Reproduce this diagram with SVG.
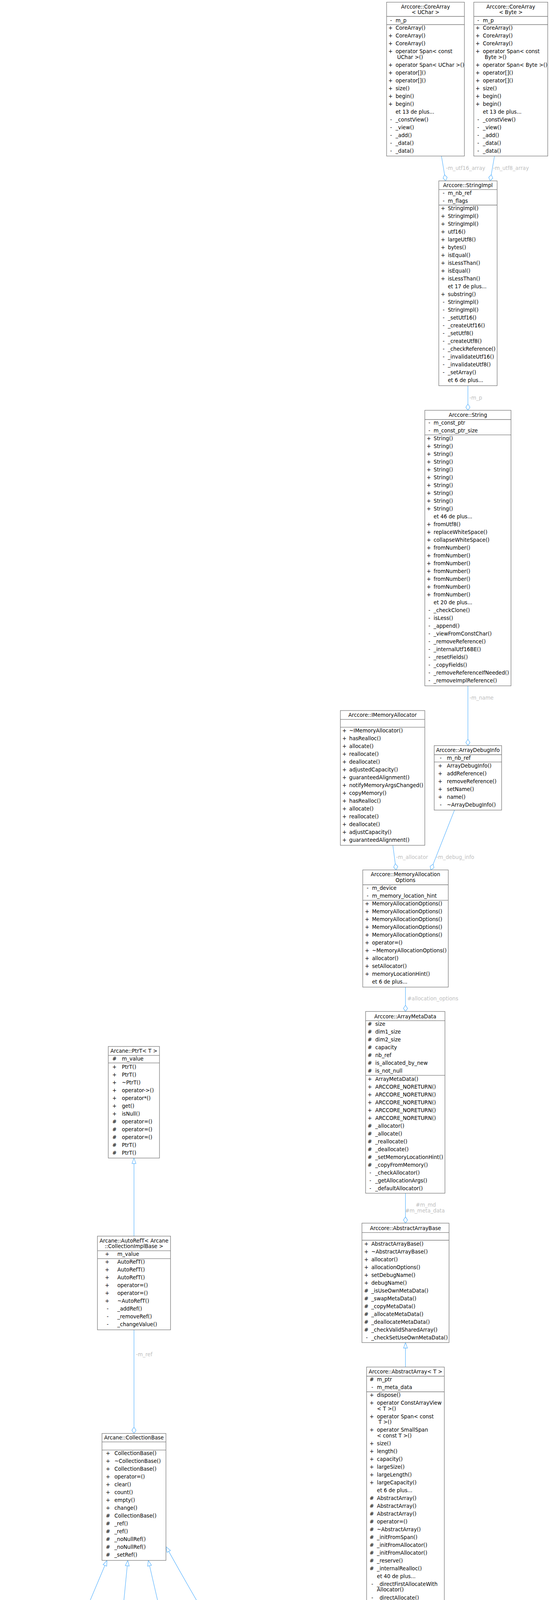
<svg xmlns="http://www.w3.org/2000/svg" width="1407" height="5335" viewBox="0 0 1407 5335">
<style>
.n{fill:#fff;stroke:#7a7a7a;stroke-width:1.3}
.f{fill:#999;stroke:#666;stroke-width:1.3}
.s{fill:none;stroke:#7a7a7a;stroke-width:1.3}
text{font-family:"DejaVu Sans","Liberation Sans",sans-serif;font-size:13.2px;fill:#000}
.c,.v{text-anchor:middle}
.e{fill:none;stroke:#63B8FF;stroke-width:1.3}
.h{fill:#fff;stroke:#63B8FF;stroke-width:1.3}
text.l{fill:#BEBEBE}
</style>
<rect width="1407" height="5335" fill="#fff"/>

<g id="connectors">
<path class="e" d="M1129.3 399.5L1137.3 447.2"/>
<polygon class="h" points="1140,463 1133.5,456 1137.3,447.2 1143.9,454.2"/>
<path class="e" d="M1265 399.5L1256.7 447.2"/>
<polygon class="h" points="1254,463 1250.2,454.2 1256.7,447.2 1260.6,456"/>
<path class="e" d="M1197 987.4V1034.4"/>
<polygon class="h" points="1197,1050.4 1191.7,1042.4 1197,1034.4 1202.3,1042.4"/>
<path class="e" d="M1197 1755.7V1892.7"/>
<polygon class="h" points="1197,1908.7 1191.7,1900.7 1197,1892.7 1202.3,1900.7"/>
<path class="e" d="M1005 2164L1011.2 2211.1"/>
<polygon class="h" points="1013.3,2227 1007,2219.8 1011.2,2211.1 1017.6,2218.4"/>
<path class="e" d="M1162.7 2073.8L1108.2 2212.1"/>
<polygon class="h" points="1102.3,2227 1100.3,2217.7 1108.2,2212.1 1110.1,2221.5"/>
<path class="e" d="M1037.3 2527V2573.4"/>
<polygon class="h" points="1037.3,2589.4 1032,2581.4 1037.3,2573.4 1042.6,2581.4"/>
<path class="e" d="M1037.3 3054.6V3115.3"/>
<polygon class="h" points="1037.3,3131.3 1032,3123.3 1037.3,3115.3 1042.6,3123.3"/>
<path class="e" d="M1037.3 3499.6V3451"/>
<polygon class="h" points="1037.3,3437 1042.3,3451 1032.3,3451"/>
<path class="e" d="M989.6 4213.3L992.7 4178.2"/>
<polygon class="h" points="993.9,4164.3 997.7,4178.6 987.7,4177.8"/>
<path class="e" d="M1144.5 4213.3L1134.4 4177.8"/>
<polygon class="h" points="1130.6,4164.3 1139.2,4176.4 1129.6,4179.2"/>
<path class="e" d="M949.1 4721.2L951.7 4656.3"/>
<polygon class="h" points="952.3,4642.3 956.7,4656.5 946.7,4656.1"/>
<path class="e" d="M1209.9 4721.2L1209 4656.3"/>
<polygon class="h" points="1208.8,4642.3 1214,4656.3 1204,4656.3"/>
<path class="e" d="M342.7 3164.5V2978.6"/>
<polygon class="h" points="342.7,2964.6 347.7,2978.6 337.7,2978.6"/>
<path class="e" d="M342.7 3404.4V3653.6"/>
<polygon class="h" points="342.7,3669.6 337.4,3661.6 342.7,3653.6 348,3661.6"/>
<path class="e" d="M155.6 4275.2L268.3 4007.5"/>
<polygon class="h" points="273.7,3994.6 272.9,4009.4 263.7,4005.6"/>
<path class="e" d="M299.7 4275.2L325.5 4008.5"/>
<polygon class="h" points="326.8,3994.6 330.5,4009 320.5,4008"/>
<path class="e" d="M444.4 4275.2L382.6 4008.2"/>
<polygon class="h" points="379.4,3994.6 387.5,4007.1 377.7,4009.3"/>
<path class="e" d="M609.2 4275.2Q520 4130 431.7 3971.6"/>
<polygon class="h" points="424.6,3959.5 436,3969.1 427.4,3974.1"/>
<path class="e" d="M93.8 4692L92.8 4593.8"/>
<polygon class="h" points="92.7,4579.8 97.8,4593.8 87.8,4593.8"/>
<path class="e" d="M283.5 4692L283.9 4593.8"/>
<polygon class="h" points="284,4579.8 288.9,4593.8 278.9,4593.8"/>
<path class="e" d="M479.1 4692V4593.8"/>
<polygon class="h" points="479.1,4579.8 484.1,4593.8 474.1,4593.8"/>
<path class="e" d="M690 4692L687.1 4593.8"/>
<polygon class="h" points="686.7,4579.8 692.1,4593.6 682.1,4594"/>
<path class="e" d="M165.3 5032.1C215 5115 330 5170 458.7 5195.5"/>
<polygon class="h" points="474.3,5199.2 465.3,5202.5 458.7,5195.5 467.7,5192.2"/>
<path class="e" d="M318.2 5032.1C340 5100 395 5145 459.2 5167.7"/>
<polygon class="h" points="474.3,5173 465.1,5175.4 459.2,5167.7 468.5,5165.4"/>
<path class="e" d="M479.1 5032.1C482 5060 490 5080 494.7 5094.2"/>
<polygon class="h" points="498.6,5109.7 491.5,5103.2 494.7,5094.2 501.7,5100.6"/>
<path class="e" d="M677 5032.1C672 5060 666 5080 660 5094.3"/>
<polygon class="h" points="655.8,5109.7 652.8,5100.6 660,5094.3 663,5103.4"/>
<path class="e" d="M885 5001.4C860 5060 800 5120 714.2 5164.3"/>
<polygon class="h" points="699.8,5171.6 704.7,5163.3 714.2,5164.3 709.5,5172.7"/>
<path class="e" d="M1165 5001.4C1120 5090 950 5135 714.8 5193.9"/>
<polygon class="h" points="699.3,5197.8 705.8,5190.7 714.8,5193.9 708.4,5200.9"/>
<text class="l" x="1141" y="435">-m_utf16_array</text>
<text class="l" x="1261" y="435">-m_utf8_array</text>
<text class="l" x="1200.7" y="1023.3">-m_p</text>
<text class="l" x="1201" y="1791.3">-m_name</text>
<text class="l" x="1013.3" y="2199">-m_allocator</text>
<text class="l" x="1116" y="2199">-m_debug_info</text>
<text class="l" x="1042" y="2561">#allocation_options</text>
<text class="l c" x="1089.3" y="3088.6">#m_md</text>
<text class="l c" x="1087.3" y="3103.9">#m_meta_data</text>
<text class="l" x="347.7" y="3472">-m_ref</text>
<text class="l c" x="270" y="5074.2">-m_service_infos</text>
<text class="l c" x="415" y="5067.3">-m_service_factory</text>
<text class="l c" x="415" y="5081.2">_infos</text>
<text class="l" x="496.5" y="5074.2">-m_module_factory_infos</text>
<text class="l" x="676.4" y="5074.2">-m_service_factories2</text>
<text class="l c" x="925" y="5067.3">-m_deletable_service</text>
<text class="l c" x="925" y="5081.2">_factory_list</text>
<text class="l c" x="1175" y="5067.3">-m_deletable_module</text>
<text class="l c" x="1175" y="5081.2">_factory_list</text>
</g>

<g id="core-array-uchar">
<rect class="n" x="989" y="5.6" width="199" height="393.9"/>
<path class="s" d="M989 42H1188M989 63H1188"/>
<text class="c" x="1088.5" y="21.5">Arccore::CoreArray</text>
<text class="c" x="1088.5" y="35.6">&lt; UChar &gt;</text>
<text class="v"><tspan x="1000.5" y="56.7">-</tspan><tspan x="999" y="76">+</tspan><tspan x="999" y="96">+</tspan><tspan x="999" y="116">+</tspan><tspan x="999" y="136">+</tspan><tspan x="999" y="170.8">+</tspan><tspan x="999" y="190.8">+</tspan><tspan x="999" y="210.8">+</tspan><tspan x="999" y="230.8">+</tspan><tspan x="999" y="250.8">+</tspan><tspan x="999" y="270.8">+</tspan><tspan x="1000.5" y="310.8">-</tspan><tspan x="1000.5" y="330.8">-</tspan><tspan x="1000.5" y="350.8">-</tspan><tspan x="1000.5" y="370.8">-</tspan><tspan x="1000.5" y="390.8">-</tspan></text>
<text><tspan x="1012" y="56.7">m_p</tspan><tspan x="1012" y="76">CoreArray()</tspan><tspan x="1012" y="96">CoreArray()</tspan><tspan x="1012" y="116">CoreArray()</tspan><tspan x="1012" y="136">operator Span&lt; const</tspan><tspan x="1016" y="150.6">UChar &gt;()</tspan><tspan x="1012" y="170.8">operator Span&lt; UChar &gt;()</tspan><tspan x="1012" y="190.8">operator[]()</tspan><tspan x="1012" y="210.8">operator[]()</tspan><tspan x="1012" y="230.8">size()</tspan><tspan x="1012" y="250.8">begin()</tspan><tspan x="1012" y="270.8">begin()</tspan><tspan x="1012" y="290.8">et 13 de plus...</tspan><tspan x="1012" y="310.8">_constView()</tspan><tspan x="1012" y="330.8">_view()</tspan><tspan x="1012" y="350.8">_add()</tspan><tspan x="1012" y="370.8">_data()</tspan><tspan x="1012" y="390.8">_data()</tspan></text>
</g>

<g id="core-array-byte">
<rect class="n" x="1212" y="5.6" width="189.3" height="393.9"/>
<path class="s" d="M1212 42H1401.3M1212 63H1401.3"/>
<text class="c" x="1306.7" y="21.5">Arccore::CoreArray</text>
<text class="c" x="1306.7" y="35.6">&lt; Byte &gt;</text>
<text class="v"><tspan x="1223.5" y="56.7">-</tspan><tspan x="1222" y="76">+</tspan><tspan x="1222" y="96">+</tspan><tspan x="1222" y="116">+</tspan><tspan x="1222" y="136">+</tspan><tspan x="1222" y="170.8">+</tspan><tspan x="1222" y="190.8">+</tspan><tspan x="1222" y="210.8">+</tspan><tspan x="1222" y="230.8">+</tspan><tspan x="1222" y="250.8">+</tspan><tspan x="1222" y="270.8">+</tspan><tspan x="1223.5" y="310.8">-</tspan><tspan x="1223.5" y="330.8">-</tspan><tspan x="1223.5" y="350.8">-</tspan><tspan x="1223.5" y="370.8">-</tspan><tspan x="1223.5" y="390.8">-</tspan></text>
<text><tspan x="1235.3" y="56.7">m_p</tspan><tspan x="1235.3" y="76">CoreArray()</tspan><tspan x="1235.3" y="96">CoreArray()</tspan><tspan x="1235.3" y="116">CoreArray()</tspan><tspan x="1235.3" y="136">operator Span&lt; const</tspan><tspan x="1240" y="150.6">Byte &gt;()</tspan><tspan x="1235.3" y="170.8">operator Span&lt; Byte &gt;()</tspan><tspan x="1235.3" y="190.8">operator[]()</tspan><tspan x="1235.3" y="210.8">operator[]()</tspan><tspan x="1235.3" y="230.8">size()</tspan><tspan x="1235.3" y="250.8">begin()</tspan><tspan x="1235.3" y="270.8">begin()</tspan><tspan x="1235.3" y="290.8">et 13 de plus...</tspan><tspan x="1235.3" y="310.8">_constView()</tspan><tspan x="1235.3" y="330.8">_view()</tspan><tspan x="1235.3" y="350.8">_add()</tspan><tspan x="1235.3" y="370.8">_data()</tspan><tspan x="1235.3" y="390.8">_data()</tspan></text>
</g>

<g id="string-impl">
<rect class="n" x="1122.5" y="463" width="149.2" height="524.4"/>
<path class="s" d="M1122.5 485.4H1271.7M1122.5 525H1271.7"/>
<text class="c" x="1197" y="478.7">Arccore::StringImpl</text>
<text class="v"><tspan x="1134.8" y="498.7">-</tspan><tspan x="1134.8" y="518.7">-</tspan><tspan x="1133.3" y="538.4">+</tspan><tspan x="1133.3" y="558.4">+</tspan><tspan x="1133.3" y="578.4">+</tspan><tspan x="1133.3" y="598.4">+</tspan><tspan x="1133.3" y="618.4">+</tspan><tspan x="1133.3" y="638.4">+</tspan><tspan x="1133.3" y="658.4">+</tspan><tspan x="1133.3" y="678.4">+</tspan><tspan x="1133.3" y="698.4">+</tspan><tspan x="1133.3" y="718.4">+</tspan><tspan x="1133.3" y="758.4">+</tspan><tspan x="1134.8" y="778.4">-</tspan><tspan x="1134.8" y="798.4">-</tspan><tspan x="1134.8" y="818.4">-</tspan><tspan x="1134.8" y="838.4">-</tspan><tspan x="1134.8" y="858.4">-</tspan><tspan x="1134.8" y="878.4">-</tspan><tspan x="1134.8" y="898.4">-</tspan><tspan x="1134.8" y="918.4">-</tspan><tspan x="1134.8" y="938.4">-</tspan><tspan x="1134.8" y="958.4">-</tspan></text>
<text><tspan x="1145.7" y="498.7">m_nb_ref</tspan><tspan x="1145.7" y="518.7">m_flags</tspan><tspan x="1145.7" y="538.4">StringImpl()</tspan><tspan x="1145.7" y="558.4">StringImpl()</tspan><tspan x="1145.7" y="578.4">StringImpl()</tspan><tspan x="1145.7" y="598.4">utf16()</tspan><tspan x="1145.7" y="618.4">largeUtf8()</tspan><tspan x="1145.7" y="638.4">bytes()</tspan><tspan x="1145.7" y="658.4">isEqual()</tspan><tspan x="1145.7" y="678.4">isLessThan()</tspan><tspan x="1145.7" y="698.4">isEqual()</tspan><tspan x="1145.7" y="718.4">isLessThan()</tspan><tspan x="1145.7" y="738.4">et 17 de plus...</tspan><tspan x="1145.7" y="758.4">substring()</tspan><tspan x="1145.7" y="778.4">StringImpl()</tspan><tspan x="1145.7" y="798.4">StringImpl()</tspan><tspan x="1145.7" y="818.4">_setUtf16()</tspan><tspan x="1145.7" y="838.4">_createUtf16()</tspan><tspan x="1145.7" y="858.4">_setUtf8()</tspan><tspan x="1145.7" y="878.4">_createUtf8()</tspan><tspan x="1145.7" y="898.4">_checkReference()</tspan><tspan x="1145.7" y="918.4">_invalidateUtf16()</tspan><tspan x="1145.7" y="938.4">_invalidateUtf8()</tspan><tspan x="1145.7" y="958.4">_setArray()</tspan><tspan x="1145.7" y="978.4">et 6 de plus...</tspan></text>
</g>

<g id="string">
<rect class="n" x="1086.7" y="1050.4" width="220.6" height="705.3"/>
<path class="s" d="M1086.7 1074H1307.3M1086.7 1113.3H1307.3"/>
<text class="c" x="1197" y="1066.7">Arccore::String</text>
<text class="v"><tspan x="1098.5" y="1087.2">-</tspan><tspan x="1098.5" y="1107.2">-</tspan><tspan x="1097" y="1126.9">+</tspan><tspan x="1097" y="1146.9">+</tspan><tspan x="1097" y="1166.9">+</tspan><tspan x="1097" y="1186.9">+</tspan><tspan x="1097" y="1206.9">+</tspan><tspan x="1097" y="1226.9">+</tspan><tspan x="1097" y="1246.9">+</tspan><tspan x="1097" y="1266.9">+</tspan><tspan x="1097" y="1286.9">+</tspan><tspan x="1097" y="1306.9">+</tspan><tspan x="1097" y="1346.9">+</tspan><tspan x="1097" y="1366.9">+</tspan><tspan x="1097" y="1386.9">+</tspan><tspan x="1097" y="1406.9">+</tspan><tspan x="1097" y="1426.9">+</tspan><tspan x="1097" y="1446.9">+</tspan><tspan x="1097" y="1466.9">+</tspan><tspan x="1097" y="1486.9">+</tspan><tspan x="1097" y="1506.9">+</tspan><tspan x="1097" y="1526.9">+</tspan><tspan x="1098.5" y="1566.9">-</tspan><tspan x="1098.5" y="1586.9">-</tspan><tspan x="1098.5" y="1606.9">-</tspan><tspan x="1098.5" y="1626.9">-</tspan><tspan x="1098.5" y="1646.9">-</tspan><tspan x="1098.5" y="1666.9">-</tspan><tspan x="1098.5" y="1686.9">-</tspan><tspan x="1098.5" y="1706.9">-</tspan><tspan x="1098.5" y="1726.9">-</tspan><tspan x="1098.5" y="1746.9">-</tspan></text>
<text><tspan x="1109.3" y="1087.2">m_const_ptr</tspan><tspan x="1109.3" y="1107.2">m_const_ptr_size</tspan><tspan x="1109.3" y="1126.9">String()</tspan><tspan x="1109.3" y="1146.9">String()</tspan><tspan x="1109.3" y="1166.9">String()</tspan><tspan x="1109.3" y="1186.9">String()</tspan><tspan x="1109.3" y="1206.9">String()</tspan><tspan x="1109.3" y="1226.9">String()</tspan><tspan x="1109.3" y="1246.9">String()</tspan><tspan x="1109.3" y="1266.9">String()</tspan><tspan x="1109.3" y="1286.9">String()</tspan><tspan x="1109.3" y="1306.9">String()</tspan><tspan x="1109.3" y="1326.9">et 46 de plus...</tspan><tspan x="1109.3" y="1346.9">fromUtf8()</tspan><tspan x="1109.3" y="1366.9">replaceWhiteSpace()</tspan><tspan x="1109.3" y="1386.9">collapseWhiteSpace()</tspan><tspan x="1109.3" y="1406.9">fromNumber()</tspan><tspan x="1109.3" y="1426.9">fromNumber()</tspan><tspan x="1109.3" y="1446.9">fromNumber()</tspan><tspan x="1109.3" y="1466.9">fromNumber()</tspan><tspan x="1109.3" y="1486.9">fromNumber()</tspan><tspan x="1109.3" y="1506.9">fromNumber()</tspan><tspan x="1109.3" y="1526.9">fromNumber()</tspan><tspan x="1109.3" y="1546.9">et 20 de plus...</tspan><tspan x="1109.3" y="1566.9">_checkClone()</tspan><tspan x="1109.3" y="1586.9">isLess()</tspan><tspan x="1109.3" y="1606.9">_append()</tspan><tspan x="1109.3" y="1626.9">_viewFromConstChar()</tspan><tspan x="1109.3" y="1646.9">_removeReference()</tspan><tspan x="1109.3" y="1666.9">_internalUtf16BE()</tspan><tspan x="1109.3" y="1686.9">_resetFields()</tspan><tspan x="1109.3" y="1706.9">_copyFields()</tspan><tspan x="1109.3" y="1726.9">_removeReferenceIfNeeded()</tspan><tspan x="1109.3" y="1746.9">_removeImplReference()</tspan></text>
</g>

<g id="imemory-allocator">
<rect class="n" x="870.7" y="1819" width="216" height="345"/>
<path class="s" d="M870.7 1841.7H1086.7M870.7 1861.7H1086.7"/>
<text class="c" x="978.7" y="1835">Arccore::IMemoryAllocator</text>
<text class="v"><tspan x="881" y="1875">+</tspan><tspan x="881" y="1895">+</tspan><tspan x="881" y="1915">+</tspan><tspan x="881" y="1935">+</tspan><tspan x="881" y="1955">+</tspan><tspan x="881" y="1975">+</tspan><tspan x="881" y="1995">+</tspan><tspan x="881" y="2015">+</tspan><tspan x="881" y="2035">+</tspan><tspan x="881" y="2055">+</tspan><tspan x="881" y="2075">+</tspan><tspan x="881" y="2095">+</tspan><tspan x="881" y="2115">+</tspan><tspan x="881" y="2135">+</tspan><tspan x="881" y="2155">+</tspan></text>
<text><tspan x="893.3" y="1875">~IMemoryAllocator()</tspan><tspan x="893.3" y="1895">hasRealloc()</tspan><tspan x="893.3" y="1915">allocate()</tspan><tspan x="893.3" y="1935">reallocate()</tspan><tspan x="893.3" y="1955">deallocate()</tspan><tspan x="893.3" y="1975">adjustedCapacity()</tspan><tspan x="893.3" y="1995">guaranteedAlignment()</tspan><tspan x="893.3" y="2015">notifyMemoryArgsChanged()</tspan><tspan x="893.3" y="2035">copyMemory()</tspan><tspan x="893.3" y="2055">hasRealloc()</tspan><tspan x="893.3" y="2075">allocate()</tspan><tspan x="893.3" y="2095">reallocate()</tspan><tspan x="893.3" y="2115">deallocate()</tspan><tspan x="893.3" y="2135">adjustCapacity()</tspan><tspan x="893.3" y="2155">guaranteedAlignment()</tspan></text>
</g>

<g id="array-debug-info">
<rect class="n" x="1110.7" y="1908.7" width="172.6" height="165.1"/>
<path class="s" d="M1110.7 1932H1283.3M1110.7 1950.7H1283.3"/>
<text class="c" x="1197" y="1925">Arccore::ArrayDebugInfo</text>
<text class="v"><tspan x="1127.5" y="1945">-</tspan><tspan x="1126" y="1965">+</tspan><tspan x="1126" y="1985">+</tspan><tspan x="1126" y="2005">+</tspan><tspan x="1126" y="2025">+</tspan><tspan x="1126" y="2045">+</tspan><tspan x="1127.5" y="2065">-</tspan></text>
<text><tspan x="1143.3" y="1945">m_nb_ref</tspan><tspan x="1143.3" y="1965">ArrayDebugInfo()</tspan><tspan x="1143.3" y="1985">addReference()</tspan><tspan x="1143.3" y="2005">removeReference()</tspan><tspan x="1143.3" y="2025">setName()</tspan><tspan x="1143.3" y="2045">name()</tspan><tspan x="1143.3" y="2065">~ArrayDebugInfo()</tspan></text>
</g>

<g id="memory-allocation-options">
<rect class="n" x="928" y="2227" width="218.7" height="300"/>
<path class="s" d="M928 2265H1146.7M928 2304.6H1146.7"/>
<text class="c" x="1037.3" y="2242.7">Arccore::MemoryAllocation</text>
<text class="c" x="1037.3" y="2258">Options</text>
<text class="v"><tspan x="940.5" y="2278.1">-</tspan><tspan x="940.5" y="2298.1">-</tspan><tspan x="939" y="2317.7">+</tspan><tspan x="939" y="2337.7">+</tspan><tspan x="939" y="2357.7">+</tspan><tspan x="939" y="2377.7">+</tspan><tspan x="939" y="2397.7">+</tspan><tspan x="939" y="2417.7">+</tspan><tspan x="939" y="2437.7">+</tspan><tspan x="939" y="2457.7">+</tspan><tspan x="939" y="2477.7">+</tspan><tspan x="939" y="2497.7">+</tspan></text>
<text><tspan x="951.7" y="2278.1">m_device</tspan><tspan x="951.7" y="2298.1">m_memory_location_hint</tspan><tspan x="951.7" y="2317.7">MemoryAllocationOptions()</tspan><tspan x="951.7" y="2337.7">MemoryAllocationOptions()</tspan><tspan x="951.7" y="2357.7">MemoryAllocationOptions()</tspan><tspan x="951.7" y="2377.7">MemoryAllocationOptions()</tspan><tspan x="951.7" y="2397.7">MemoryAllocationOptions()</tspan><tspan x="951.7" y="2417.7">operator=()</tspan><tspan x="951.7" y="2437.7">~MemoryAllocationOptions()</tspan><tspan x="951.7" y="2457.7">allocator()</tspan><tspan x="951.7" y="2477.7">setAllocator()</tspan><tspan x="951.7" y="2497.7">memoryLocationHint()</tspan><tspan x="951.7" y="2517.7">et 6 de plus...</tspan></text>
</g>

<g id="array-meta-data">
<rect class="n" x="935.3" y="2589.4" width="203" height="465.2"/>
<path class="s" d="M935.3 2612.9H1138.3M935.3 2752.9H1138.3"/>
<text class="c" x="1036.8" y="2606.5">Arccore::ArrayMetaData</text>
<text class="v"><tspan x="946" y="2626.1">#</tspan><tspan x="946" y="2646.1">#</tspan><tspan x="946" y="2666.1">#</tspan><tspan x="946" y="2686.1">#</tspan><tspan x="946" y="2706.1">#</tspan><tspan x="946" y="2726.1">#</tspan><tspan x="946" y="2746.1">#</tspan><tspan x="946" y="2766.5">+</tspan><tspan x="946" y="2786.5">+</tspan><tspan x="946" y="2806.5">+</tspan><tspan x="946" y="2826.5">+</tspan><tspan x="946" y="2846.5">+</tspan><tspan x="946" y="2866.5">+</tspan><tspan x="946" y="2886.5">#</tspan><tspan x="946" y="2906.5">#</tspan><tspan x="946" y="2926.5">#</tspan><tspan x="946" y="2946.5">#</tspan><tspan x="946" y="2966.5">#</tspan><tspan x="946" y="2986.5">#</tspan><tspan x="947.5" y="3006.5">-</tspan><tspan x="947.5" y="3026.5">-</tspan><tspan x="947.5" y="3046.5">-</tspan></text>
<text><tspan x="960" y="2626.1">size</tspan><tspan x="960" y="2646.1">dim1_size</tspan><tspan x="960" y="2666.1">dim2_size</tspan><tspan x="960" y="2686.1">capacity</tspan><tspan x="960" y="2706.1">nb_ref</tspan><tspan x="960" y="2726.1">is_allocated_by_new</tspan><tspan x="960" y="2746.1">is_not_null</tspan><tspan x="960" y="2766.5">ArrayMetaData()</tspan><tspan x="960" y="2786.5">ARCCORE_NORETURN()</tspan><tspan x="960" y="2806.5">ARCCORE_NORETURN()</tspan><tspan x="960" y="2826.5">ARCCORE_NORETURN()</tspan><tspan x="960" y="2846.5">ARCCORE_NORETURN()</tspan><tspan x="960" y="2866.5">ARCCORE_NORETURN()</tspan><tspan x="960" y="2886.5">_allocator()</tspan><tspan x="960" y="2906.5">_allocate()</tspan><tspan x="960" y="2926.5">_reallocate()</tspan><tspan x="960" y="2946.5">_deallocate()</tspan><tspan x="960" y="2966.5">_setMemoryLocationHint()</tspan><tspan x="960" y="2986.5">_copyFromMemory()</tspan><tspan x="960" y="3006.5">_checkAllocator()</tspan><tspan x="960" y="3026.5">_getAllocationArgs()</tspan><tspan x="960" y="3046.5">_defaultAllocator()</tspan></text>
</g>

<g id="abstract-array-base">
<rect class="n" x="925.9" y="3131.3" width="222.8" height="305.7"/>
<path class="s" d="M925.9 3155.4H1148.7M925.9 3175H1148.7"/>
<text class="c" x="1037.3" y="3149.3">Arccore::AbstractArrayBase</text>
<text class="v"><tspan x="937" y="3188.7">+</tspan><tspan x="937" y="3208.7">+</tspan><tspan x="937" y="3228.7">+</tspan><tspan x="937" y="3248.7">+</tspan><tspan x="937" y="3268.7">+</tspan><tspan x="937" y="3288.7">+</tspan><tspan x="937" y="3308.7">#</tspan><tspan x="937" y="3328.7">#</tspan><tspan x="937" y="3348.7">#</tspan><tspan x="937" y="3368.7">#</tspan><tspan x="937" y="3388.7">#</tspan><tspan x="937" y="3408.7">#</tspan><tspan x="938.5" y="3428.7">-</tspan></text>
<text><tspan x="950" y="3188.7">AbstractArrayBase()</tspan><tspan x="950" y="3208.7">~AbstractArrayBase()</tspan><tspan x="950" y="3228.7">allocator()</tspan><tspan x="950" y="3248.7">allocationOptions()</tspan><tspan x="950" y="3268.7">setDebugName()</tspan><tspan x="950" y="3288.7">debugName()</tspan><tspan x="950" y="3308.7">_isUseOwnMetaData()</tspan><tspan x="950" y="3328.7">_swapMetaData()</tspan><tspan x="950" y="3348.7">_copyMetaData()</tspan><tspan x="950" y="3368.7">_allocateMetaData()</tspan><tspan x="950" y="3388.7">_deallocateMetaData()</tspan><tspan x="950" y="3408.7">_checkValidSharedArray()</tspan><tspan x="950" y="3428.7">_checkSetUseOwnMetaData()</tspan></text>
</g>

<g id="abstract-array">
<rect class="n" x="937.8" y="3499.6" width="198.8" height="664.7"/>
<path class="s" d="M937.8 3523H1136.6M937.8 3563H1136.6"/>
<text class="c" x="1037.3" y="3515.7">Arccore::AbstractArray&lt; T &gt;</text>
<text class="v"><tspan x="951" y="3536.4">#</tspan><tspan x="952.5" y="3556">-</tspan><tspan x="951" y="3575.7">+</tspan><tspan x="951" y="3596.2">+</tspan><tspan x="951" y="3631">+</tspan><tspan x="951" y="3665.2">+</tspan><tspan x="951" y="3699.7">+</tspan><tspan x="951" y="3719.7">+</tspan><tspan x="951" y="3739.7">+</tspan><tspan x="951" y="3759.7">+</tspan><tspan x="951" y="3779.7">+</tspan><tspan x="951" y="3799.7">+</tspan><tspan x="951" y="3839.7">#</tspan><tspan x="951" y="3859.7">#</tspan><tspan x="951" y="3879.7">#</tspan><tspan x="951" y="3899.7">#</tspan><tspan x="951" y="3919.7">#</tspan><tspan x="951" y="3939.7">#</tspan><tspan x="951" y="3959.7">#</tspan><tspan x="951" y="3979.7">#</tspan><tspan x="951" y="3999.7">#</tspan><tspan x="951" y="4019.7">#</tspan><tspan x="952.5" y="4059.7">-</tspan><tspan x="952.5" y="4094.7">-</tspan><tspan x="952.5" y="4114.7">-</tspan><tspan x="952.5" y="4134.7">-</tspan><tspan x="952.5" y="4154.7">-</tspan></text>
<text><tspan x="964.3" y="3536.4">m_ptr</tspan><tspan x="964.3" y="3556">m_meta_data</tspan><tspan x="964.3" y="3575.7">dispose()</tspan><tspan x="964.3" y="3596.2">operator ConstArrayView</tspan><tspan x="964.3" y="3610.7">&lt; T &gt;()</tspan><tspan x="964.3" y="3631">operator Span&lt; const</tspan><tspan x="968.3" y="3645.2">T &gt;()</tspan><tspan x="964.3" y="3665.2">operator SmallSpan</tspan><tspan x="964.3" y="3679.7">&lt; const T &gt;()</tspan><tspan x="964.3" y="3699.7">size()</tspan><tspan x="964.3" y="3719.7">length()</tspan><tspan x="964.3" y="3739.7">capacity()</tspan><tspan x="964.3" y="3759.7">largeSize()</tspan><tspan x="964.3" y="3779.7">largeLength()</tspan><tspan x="964.3" y="3799.7">largeCapacity()</tspan><tspan x="964.3" y="3819.7">et 6 de plus...</tspan><tspan x="964.3" y="3839.7">AbstractArray()</tspan><tspan x="964.3" y="3859.7">AbstractArray()</tspan><tspan x="964.3" y="3879.7">AbstractArray()</tspan><tspan x="964.3" y="3899.7">operator=()</tspan><tspan x="964.3" y="3919.7">~AbstractArray()</tspan><tspan x="964.3" y="3939.7">_initFromSpan()</tspan><tspan x="964.3" y="3959.7">_initFromAllocator()</tspan><tspan x="964.3" y="3979.7">_initFromAllocator()</tspan><tspan x="964.3" y="3999.7">_reserve()</tspan><tspan x="964.3" y="4019.7">_internalRealloc()</tspan><tspan x="964.3" y="4039.7">et 40 de plus...</tspan><tspan x="964.3" y="4059.7">_directFirstAllocateWith</tspan><tspan x="964.3" y="4074.3">Allocator()</tspan><tspan x="964.3" y="4094.7">_directAllocate()</tspan><tspan x="964.3" y="4114.7">_allocateMP()</tspan><tspan x="964.3" y="4134.7">_directReAllocate()</tspan><tspan x="964.3" y="4154.7">_setToSharedNull()</tspan></text>
</g>

<g id="array-left">
<rect class="n" x="866.7" y="4213.3" width="191.8" height="429"/>
<path class="s" d="M866.7 4236H1058.5M866.7 4256.4H1058.5"/>
<text class="c" x="962.6" y="4229.2">Arccore::Array&lt; T &gt;</text>
<text class="v"><tspan x="877.4" y="4269.4">+</tspan><tspan x="877.4" y="4289.4">+</tspan><tspan x="877.4" y="4324.2">+</tspan><tspan x="877.4" y="4359">+</tspan><tspan x="877.4" y="4393.7">+</tspan><tspan x="877.4" y="4413.7">+</tspan><tspan x="877.4" y="4433.7">+</tspan><tspan x="877.4" y="4453.7">+</tspan><tspan x="877.4" y="4473.7">+</tspan><tspan x="877.4" y="4493.7">+</tspan><tspan x="877.4" y="4533.7">#</tspan><tspan x="877.4" y="4553.7">#</tspan><tspan x="877.4" y="4573.7">#</tspan><tspan x="878.9" y="4593.7">-</tspan><tspan x="878.9" y="4613.7">-</tspan><tspan x="878.9" y="4633.7">-</tspan></text>
<text><tspan x="889.4" y="4269.4">~Array()</tspan><tspan x="889.4" y="4289.4">operator ConstArrayView</tspan><tspan x="889.4" y="4304.2">&lt; T &gt;()</tspan><tspan x="889.4" y="4324.2">operator ArrayView</tspan><tspan x="889.4" y="4339">&lt; T &gt;()</tspan><tspan x="889.4" y="4359">operator Span&lt; const</tspan><tspan x="893.4" y="4373.7">T &gt;()</tspan><tspan x="889.4" y="4393.7">operator Span&lt; T &gt;()</tspan><tspan x="889.4" y="4413.7">constView()</tspan><tspan x="889.4" y="4433.7">constSpan()</tspan><tspan x="889.4" y="4453.7">subConstView()</tspan><tspan x="889.4" y="4473.7">view()</tspan><tspan x="889.4" y="4493.7">span()</tspan><tspan x="889.4" y="4513.7">et 53 de plus...</tspan><tspan x="889.4" y="4533.7">Array()</tspan><tspan x="889.4" y="4553.7">Array()</tspan><tspan x="889.4" y="4573.7">_initFromInitializerList()</tspan><tspan x="889.4" y="4593.7">Array()</tspan><tspan x="889.4" y="4613.7">operator=()</tspan><tspan x="889.4" y="4633.7">TV_ttf_display_type()</tspan></text>
</g>

<g id="array-right">
<rect class="n" x="1109.3" y="4213.3" width="191.8" height="429"/>
<path class="s" d="M1109.3 4236H1301.1M1109.3 4256.4H1301.1"/>
<text class="c" x="1205.2" y="4229.2">Arccore::Array&lt; T &gt;</text>
<text class="v"><tspan x="1120" y="4269.4">+</tspan><tspan x="1120" y="4289.4">+</tspan><tspan x="1120" y="4324.2">+</tspan><tspan x="1120" y="4359">+</tspan><tspan x="1120" y="4393.7">+</tspan><tspan x="1120" y="4413.7">+</tspan><tspan x="1120" y="4433.7">+</tspan><tspan x="1120" y="4453.7">+</tspan><tspan x="1120" y="4473.7">+</tspan><tspan x="1120" y="4493.7">+</tspan><tspan x="1120" y="4533.7">#</tspan><tspan x="1120" y="4553.7">#</tspan><tspan x="1120" y="4573.7">#</tspan><tspan x="1121.5" y="4593.7">-</tspan><tspan x="1121.5" y="4613.7">-</tspan><tspan x="1121.5" y="4633.7">-</tspan></text>
<text><tspan x="1132.4" y="4269.4">~Array()</tspan><tspan x="1132.4" y="4289.4">operator ConstArrayView</tspan><tspan x="1132.4" y="4304.2">&lt; T &gt;()</tspan><tspan x="1132.4" y="4324.2">operator ArrayView</tspan><tspan x="1132.4" y="4339">&lt; T &gt;()</tspan><tspan x="1132.4" y="4359">operator Span&lt; const</tspan><tspan x="1136.4" y="4373.7">T &gt;()</tspan><tspan x="1132.4" y="4393.7">operator Span&lt; T &gt;()</tspan><tspan x="1132.4" y="4413.7">constView()</tspan><tspan x="1132.4" y="4433.7">constSpan()</tspan><tspan x="1132.4" y="4453.7">subConstView()</tspan><tspan x="1132.4" y="4473.7">view()</tspan><tspan x="1132.4" y="4493.7">span()</tspan><tspan x="1132.4" y="4513.7">et 53 de plus...</tspan><tspan x="1132.4" y="4533.7">Array()</tspan><tspan x="1132.4" y="4553.7">Array()</tspan><tspan x="1132.4" y="4573.7">_initFromInitializerList()</tspan><tspan x="1132.4" y="4593.7">Array()</tspan><tspan x="1132.4" y="4613.7">operator=()</tspan><tspan x="1132.4" y="4633.7">TV_ttf_display_type()</tspan></text>
</g>

<g id="unique-array-service-factory-info">
<rect class="n" x="826.6" y="4722" width="231.9" height="279.4"/>
<path class="s" d="M826.6 4759.5H1058.5M826.6 4779H1058.5"/>
<text x="835" y="4738.2">Arccore::UniqueArray</text>
<text class="c" x="942.5" y="4753.3">&lt; Arcane::IServiceFactoryInfo * &gt;</text>
<text class="v"><tspan x="864.2" y="4793.3">+</tspan><tspan x="864.2" y="4813.3">+</tspan><tspan x="864.2" y="4833.3">+</tspan><tspan x="864.2" y="4853.3">+</tspan><tspan x="864.2" y="4873.3">+</tspan><tspan x="864.2" y="4893.3">+</tspan><tspan x="864.2" y="4913.3">+</tspan><tspan x="864.2" y="4933.3">+</tspan><tspan x="864.2" y="4953.3">+</tspan><tspan x="864.2" y="4973.3">+</tspan></text>
<text><tspan x="903.3" y="4793.3">UniqueArray()</tspan><tspan x="903.3" y="4813.3">UniqueArray()</tspan><tspan x="903.3" y="4833.3">UniqueArray()</tspan><tspan x="903.3" y="4853.3">UniqueArray()</tspan><tspan x="903.3" y="4873.3">UniqueArray()</tspan><tspan x="903.3" y="4893.3">UniqueArray()</tspan><tspan x="903.3" y="4913.3">UniqueArray()</tspan><tspan x="903.3" y="4933.3">UniqueArray()</tspan><tspan x="903.3" y="4953.3">UniqueArray()</tspan><tspan x="903.3" y="4973.3">UniqueArray()</tspan><tspan x="903.3" y="4993.3">et 27 de plus...</tspan></text>
</g>

<g id="unique-array-module-factory-reference">
<rect class="n" x="1082.7" y="4722" width="258.6" height="279.4"/>
<path class="s" d="M1082.7 4759.5H1341.3M1082.7 4779H1341.3"/>
<text x="1089.8" y="4738.2">Arccore::UniqueArray</text>
<text class="c" x="1212" y="4753.3">&lt; Arcane::ModuleFactoryReference &gt;</text>
<text class="v"><tspan x="1126.4" y="4793.3">+</tspan><tspan x="1126.4" y="4813.3">+</tspan><tspan x="1126.4" y="4833.3">+</tspan><tspan x="1126.4" y="4853.3">+</tspan><tspan x="1126.4" y="4873.3">+</tspan><tspan x="1126.4" y="4893.3">+</tspan><tspan x="1126.4" y="4913.3">+</tspan><tspan x="1126.4" y="4933.3">+</tspan><tspan x="1126.4" y="4953.3">+</tspan><tspan x="1126.4" y="4973.3">+</tspan></text>
<text><tspan x="1172.2" y="4793.3">UniqueArray()</tspan><tspan x="1172.2" y="4813.3">UniqueArray()</tspan><tspan x="1172.2" y="4833.3">UniqueArray()</tspan><tspan x="1172.2" y="4853.3">UniqueArray()</tspan><tspan x="1172.2" y="4873.3">UniqueArray()</tspan><tspan x="1172.2" y="4893.3">UniqueArray()</tspan><tspan x="1172.2" y="4913.3">UniqueArray()</tspan><tspan x="1172.2" y="4933.3">UniqueArray()</tspan><tspan x="1172.2" y="4953.3">UniqueArray()</tspan><tspan x="1172.2" y="4973.3">UniqueArray()</tspan><tspan x="1172.2" y="4993.3">et 27 de plus...</tspan></text>
</g>

<g id="ptr-t">
<rect class="n" x="277" y="2678.9" width="131" height="285.7"/>
<path class="s" d="M277 2701.8H408M277 2721.2H408"/>
<text class="c" x="342.5" y="2694.7">Arcane::PtrT&lt; T &gt;</text>
<text class="v"><tspan x="292.7" y="2715.2">#</tspan><tspan x="292.7" y="2735.6">+</tspan><tspan x="292.7" y="2755.6">+</tspan><tspan x="292.7" y="2775.6">+</tspan><tspan x="292.7" y="2795.6">+</tspan><tspan x="292.7" y="2815.6">+</tspan><tspan x="292.7" y="2835.6">+</tspan><tspan x="292.7" y="2855.6">+</tspan><tspan x="292.7" y="2875.6">#</tspan><tspan x="292.7" y="2895.6">#</tspan><tspan x="292.7" y="2915.6">#</tspan><tspan x="292.7" y="2935.6">#</tspan><tspan x="292.7" y="2955.6">#</tspan></text>
<text><tspan x="311.7" y="2715.2">m_value</tspan><tspan x="311.7" y="2735.6">PtrT()</tspan><tspan x="311.7" y="2755.6">PtrT()</tspan><tspan x="311.7" y="2775.6">~PtrT()</tspan><tspan x="311.7" y="2795.6">operator-&gt;()</tspan><tspan x="311.7" y="2815.6">operator*()</tspan><tspan x="311.7" y="2835.6">get()</tspan><tspan x="311.7" y="2855.6">isNull()</tspan><tspan x="311.7" y="2875.6">operator=()</tspan><tspan x="311.7" y="2895.6">operator=()</tspan><tspan x="311.7" y="2915.6">operator=()</tspan><tspan x="311.7" y="2935.6">PtrT()</tspan><tspan x="311.7" y="2955.6">PtrT()</tspan></text>
</g>

<g id="auto-ref-t">
<rect class="n" x="249.3" y="3164.5" width="187" height="239.9"/>
<path class="s" d="M249.3 3201.8H436.3M249.3 3222.2H436.3"/>
<text class="c" x="342.8" y="3180.8">Arcane::AutoRefT&lt; Arcane</text>
<text class="c" x="342.8" y="3194.9">::CollectionImplBase &gt;</text>
<text class="v"><tspan x="274" y="3215.2">+</tspan><tspan x="274" y="3235.1">+</tspan><tspan x="274" y="3255.1">+</tspan><tspan x="274" y="3275.1">+</tspan><tspan x="274" y="3295.1">+</tspan><tspan x="274" y="3315.1">+</tspan><tspan x="274" y="3335.1">+</tspan><tspan x="275.5" y="3355.1">-</tspan><tspan x="275.5" y="3375.1">-</tspan><tspan x="275.5" y="3395.1">-</tspan></text>
<text><tspan x="300.3" y="3215.2">m_value</tspan><tspan x="300.3" y="3235.1">AutoRefT()</tspan><tspan x="300.3" y="3255.1">AutoRefT()</tspan><tspan x="300.3" y="3275.1">AutoRefT()</tspan><tspan x="300.3" y="3295.1">operator=()</tspan><tspan x="300.3" y="3315.1">operator=()</tspan><tspan x="300.3" y="3335.1">~AutoRefT()</tspan><tspan x="300.3" y="3355.1">_addRef()</tspan><tspan x="300.3" y="3375.1">_removeRef()</tspan><tspan x="300.3" y="3395.1">_changeValue()</tspan></text>
</g>

<g id="collection-base">
<rect class="n" x="260.9" y="3669.6" width="163.6" height="325"/>
<path class="s" d="M260.9 3691.4H424.5M260.9 3712.2H424.5"/>
<text class="c" x="342.7" y="3685.4">Arcane::CollectionBase</text>
<text class="v"><tspan x="276.3" y="3725.2">+</tspan><tspan x="276.3" y="3745.2">+</tspan><tspan x="276.3" y="3765.2">+</tspan><tspan x="276.3" y="3785.2">+</tspan><tspan x="276.3" y="3805.2">+</tspan><tspan x="276.3" y="3825.2">+</tspan><tspan x="276.3" y="3845.2">+</tspan><tspan x="276.3" y="3865.2">+</tspan><tspan x="276.3" y="3885.2">#</tspan><tspan x="276.3" y="3905.2">#</tspan><tspan x="276.3" y="3925.2">#</tspan><tspan x="276.3" y="3945.2">#</tspan><tspan x="276.3" y="3965.2">#</tspan><tspan x="276.3" y="3985.2">#</tspan></text>
<text><tspan x="292.7" y="3725.2">CollectionBase()</tspan><tspan x="292.7" y="3745.2">~CollectionBase()</tspan><tspan x="292.7" y="3765.2">CollectionBase()</tspan><tspan x="292.7" y="3785.2">operator=()</tspan><tspan x="292.7" y="3805.2">clear()</tspan><tspan x="292.7" y="3825.2">count()</tspan><tspan x="292.7" y="3845.2">empty()</tspan><tspan x="292.7" y="3865.2">change()</tspan><tspan x="292.7" y="3885.2">CollectionBase()</tspan><tspan x="292.7" y="3905.2">_ref()</tspan><tspan x="292.7" y="3925.2">_ref()</tspan><tspan x="292.7" y="3945.2">_noNullRef()</tspan><tspan x="292.7" y="3965.2">_noNullRef()</tspan><tspan x="292.7" y="3985.2">_setRef()</tspan></text>
</g>

<g id="collection-1">
<rect class="n" x="5.4" y="4275.2" width="170.8" height="304.6"/>
<path class="s" d="M5.4 4298.6H176.2M5.4 4318.3H176.2"/>
<text class="c" x="90.8" y="4291.8">Arcane::Collection&lt; T &gt;</text>
<text class="v"><tspan x="30.4" y="4332.2">+</tspan><tspan x="30.4" y="4352.2">+</tspan><tspan x="30.4" y="4372.2">+</tspan><tspan x="30.4" y="4392.2">+</tspan><tspan x="30.4" y="4412.2">+</tspan><tspan x="30.4" y="4432.2">+</tspan><tspan x="30.4" y="4452.2">+</tspan><tspan x="30.4" y="4472.2">+</tspan><tspan x="30.4" y="4492.2">+</tspan><tspan x="30.4" y="4512.2">+</tspan><tspan x="30.4" y="4532.2">#</tspan><tspan x="31.9" y="4552.2">-</tspan><tspan x="31.9" y="4572.2">-</tspan></text>
<text><tspan x="56.4" y="4332.2">Collection()</tspan><tspan x="56.4" y="4352.2">enumerator()</tspan><tspan x="56.4" y="4372.2">begin()</tspan><tspan x="56.4" y="4392.2">end()</tspan><tspan x="56.4" y="4412.2">front()</tspan><tspan x="56.4" y="4432.2">remove()</tspan><tspan x="56.4" y="4452.2">removeAt()</tspan><tspan x="56.4" y="4472.2">add()</tspan><tspan x="56.4" y="4492.2">contains()</tspan><tspan x="56.4" y="4512.2">each()</tspan><tspan x="56.4" y="4532.2">Collection()</tspan><tspan x="56.4" y="4552.2">_cast()</tspan><tspan x="56.4" y="4572.2">_cast()</tspan></text>
</g>

<g id="collection-2">
<rect class="n" x="200" y="4275.2" width="170.2" height="304.6"/>
<path class="s" d="M200 4298.6H370.2M200 4318.3H370.2"/>
<text class="c" x="285.1" y="4291.8">Arcane::Collection&lt; T &gt;</text>
<text class="v"><tspan x="224.4" y="4332.2">+</tspan><tspan x="224.4" y="4352.2">+</tspan><tspan x="224.4" y="4372.2">+</tspan><tspan x="224.4" y="4392.2">+</tspan><tspan x="224.4" y="4412.2">+</tspan><tspan x="224.4" y="4432.2">+</tspan><tspan x="224.4" y="4452.2">+</tspan><tspan x="224.4" y="4472.2">+</tspan><tspan x="224.4" y="4492.2">+</tspan><tspan x="224.4" y="4512.2">+</tspan><tspan x="224.4" y="4532.2">#</tspan><tspan x="225.9" y="4552.2">-</tspan><tspan x="225.9" y="4572.2">-</tspan></text>
<text><tspan x="251.5" y="4332.2">Collection()</tspan><tspan x="251.5" y="4352.2">enumerator()</tspan><tspan x="251.5" y="4372.2">begin()</tspan><tspan x="251.5" y="4392.2">end()</tspan><tspan x="251.5" y="4412.2">front()</tspan><tspan x="251.5" y="4432.2">remove()</tspan><tspan x="251.5" y="4452.2">removeAt()</tspan><tspan x="251.5" y="4472.2">add()</tspan><tspan x="251.5" y="4492.2">contains()</tspan><tspan x="251.5" y="4512.2">each()</tspan><tspan x="251.5" y="4532.2">Collection()</tspan><tspan x="251.5" y="4552.2">_cast()</tspan><tspan x="251.5" y="4572.2">_cast()</tspan></text>
</g>

<g id="collection-3">
<rect class="n" x="394.6" y="4275.2" width="170.2" height="304.6"/>
<path class="s" d="M394.6 4298.6H564.8M394.6 4318.3H564.8"/>
<text class="c" x="479.7" y="4291.8">Arcane::Collection&lt; T &gt;</text>
<text class="v"><tspan x="419" y="4332.2">+</tspan><tspan x="419" y="4352.2">+</tspan><tspan x="419" y="4372.2">+</tspan><tspan x="419" y="4392.2">+</tspan><tspan x="419" y="4412.2">+</tspan><tspan x="419" y="4432.2">+</tspan><tspan x="419" y="4452.2">+</tspan><tspan x="419" y="4472.2">+</tspan><tspan x="419" y="4492.2">+</tspan><tspan x="419" y="4512.2">+</tspan><tspan x="419" y="4532.2">#</tspan><tspan x="420.5" y="4552.2">-</tspan><tspan x="420.5" y="4572.2">-</tspan></text>
<text><tspan x="445.5" y="4332.2">Collection()</tspan><tspan x="445.5" y="4352.2">enumerator()</tspan><tspan x="445.5" y="4372.2">begin()</tspan><tspan x="445.5" y="4392.2">end()</tspan><tspan x="445.5" y="4412.2">front()</tspan><tspan x="445.5" y="4432.2">remove()</tspan><tspan x="445.5" y="4452.2">removeAt()</tspan><tspan x="445.5" y="4472.2">add()</tspan><tspan x="445.5" y="4492.2">contains()</tspan><tspan x="445.5" y="4512.2">each()</tspan><tspan x="445.5" y="4532.2">Collection()</tspan><tspan x="445.5" y="4552.2">_cast()</tspan><tspan x="445.5" y="4572.2">_cast()</tspan></text>
</g>

<g id="collection-4">
<rect class="n" x="596.2" y="4275.2" width="170.2" height="304.6"/>
<path class="s" d="M596.2 4298.6H766.4M596.2 4318.3H766.4"/>
<text class="c" x="681.3" y="4291.8">Arcane::Collection&lt; T &gt;</text>
<text class="v"><tspan x="620.6" y="4332.2">+</tspan><tspan x="620.6" y="4352.2">+</tspan><tspan x="620.6" y="4372.2">+</tspan><tspan x="620.6" y="4392.2">+</tspan><tspan x="620.6" y="4412.2">+</tspan><tspan x="620.6" y="4432.2">+</tspan><tspan x="620.6" y="4452.2">+</tspan><tspan x="620.6" y="4472.2">+</tspan><tspan x="620.6" y="4492.2">+</tspan><tspan x="620.6" y="4512.2">+</tspan><tspan x="620.6" y="4532.2">#</tspan><tspan x="622.1" y="4552.2">-</tspan><tspan x="622.1" y="4572.2">-</tspan></text>
<text><tspan x="647.2" y="4332.2">Collection()</tspan><tspan x="647.2" y="4352.2">enumerator()</tspan><tspan x="647.2" y="4372.2">begin()</tspan><tspan x="647.2" y="4392.2">end()</tspan><tspan x="647.2" y="4412.2">front()</tspan><tspan x="647.2" y="4432.2">remove()</tspan><tspan x="647.2" y="4452.2">removeAt()</tspan><tspan x="647.2" y="4472.2">add()</tspan><tspan x="647.2" y="4492.2">contains()</tspan><tspan x="647.2" y="4512.2">each()</tspan><tspan x="647.2" y="4532.2">Collection()</tspan><tspan x="647.2" y="4552.2">_cast()</tspan><tspan x="647.2" y="4572.2">_cast()</tspan></text>
</g>

<g id="list-service-info">
<rect class="n" x="20.6" y="4692" width="150.7" height="340.1"/>
<path class="s" d="M20.6 4730H171.3M20.6 4749.3H171.3"/>
<text class="c" x="96" y="4709">Arcane::List&lt; Arcane</text>
<text class="c" x="96" y="4722.9">::IServiceInfo * &gt;</text>
<text class="v"><tspan x="40.1" y="4763.4">+</tspan><tspan x="40.1" y="4783.4">+</tspan><tspan x="40.1" y="4803.4">+</tspan><tspan x="40.1" y="4823.4">+</tspan><tspan x="40.1" y="4843.4">+</tspan><tspan x="40.1" y="4863.4">+</tspan><tspan x="40.1" y="4883.4">+</tspan><tspan x="40.1" y="4903.4">+</tspan><tspan x="40.1" y="4923.4">+</tspan><tspan x="40.1" y="4943.4">+</tspan><tspan x="40.1" y="4983.4">#</tspan><tspan x="41.6" y="5003.4">-</tspan><tspan x="41.6" y="5023.4">-</tspan></text>
<text><tspan x="60.2" y="4763.4">List()</tspan><tspan x="60.2" y="4783.4">List()</tspan><tspan x="60.2" y="4803.4">List()</tspan><tspan x="60.2" y="4823.4">List()</tspan><tspan x="60.2" y="4843.4">resize()</tspan><tspan x="60.2" y="4863.4">operator[]()</tspan><tspan x="60.2" y="4883.4">operator[]()</tspan><tspan x="60.2" y="4903.4">clone()</tspan><tspan x="60.2" y="4923.4">clone()</tspan><tspan x="60.2" y="4943.4">begin()</tspan><tspan x="60.2" y="4963.4">et 6 de plus...</tspan><tspan x="60.2" y="4983.4">List()</tspan><tspan x="60.2" y="5003.4">_cast()</tspan><tspan x="60.2" y="5023.4">_cast()</tspan></text>
</g>

<g id="list-service-factory-info">
<rect class="n" x="196.7" y="4692" width="171.9" height="340.1"/>
<path class="s" d="M196.7 4730H368.6M196.7 4749.3H368.6"/>
<text x="203.8" y="4709">Arcane::List&lt; Arcane</text>
<text class="c" x="282.6" y="4722.9">::IServiceFactoryInfo * &gt;</text>
<text class="v"><tspan x="221.1" y="4763.4">+</tspan><tspan x="221.1" y="4783.4">+</tspan><tspan x="221.1" y="4803.4">+</tspan><tspan x="221.1" y="4823.4">+</tspan><tspan x="221.1" y="4843.4">+</tspan><tspan x="221.1" y="4863.4">+</tspan><tspan x="221.1" y="4883.4">+</tspan><tspan x="221.1" y="4903.4">+</tspan><tspan x="221.1" y="4923.4">+</tspan><tspan x="221.1" y="4943.4">+</tspan><tspan x="221.1" y="4983.4">#</tspan><tspan x="222.6" y="5003.4">-</tspan><tspan x="222.6" y="5023.4">-</tspan></text>
<text><tspan x="246.6" y="4763.4">List()</tspan><tspan x="246.6" y="4783.4">List()</tspan><tspan x="246.6" y="4803.4">List()</tspan><tspan x="246.6" y="4823.4">List()</tspan><tspan x="246.6" y="4843.4">resize()</tspan><tspan x="246.6" y="4863.4">operator[]()</tspan><tspan x="246.6" y="4883.4">operator[]()</tspan><tspan x="246.6" y="4903.4">clone()</tspan><tspan x="246.6" y="4923.4">clone()</tspan><tspan x="246.6" y="4943.4">begin()</tspan><tspan x="246.6" y="4963.4">et 6 de plus...</tspan><tspan x="246.6" y="4983.4">List()</tspan><tspan x="246.6" y="5003.4">_cast()</tspan><tspan x="246.6" y="5023.4">_cast()</tspan></text>
</g>

<g id="list-module-factory-info">
<rect class="n" x="392.4" y="4692" width="171.8" height="340.1"/>
<path class="s" d="M392.4 4730H564.2M392.4 4749.3H564.2"/>
<text x="400" y="4709">Arcane::List&lt; Arcane</text>
<text class="c" x="478.6" y="4722.9">::IModuleFactoryInfo * &gt;</text>
<text class="v"><tspan x="417.3" y="4763.4">+</tspan><tspan x="417.3" y="4783.4">+</tspan><tspan x="417.3" y="4803.4">+</tspan><tspan x="417.3" y="4823.4">+</tspan><tspan x="417.3" y="4843.4">+</tspan><tspan x="417.3" y="4863.4">+</tspan><tspan x="417.3" y="4883.4">+</tspan><tspan x="417.3" y="4903.4">+</tspan><tspan x="417.3" y="4923.4">+</tspan><tspan x="417.3" y="4943.4">+</tspan><tspan x="417.3" y="4983.4">#</tspan><tspan x="418.8" y="5003.4">-</tspan><tspan x="418.8" y="5023.4">-</tspan></text>
<text><tspan x="442.8" y="4763.4">List()</tspan><tspan x="442.8" y="4783.4">List()</tspan><tspan x="442.8" y="4803.4">List()</tspan><tspan x="442.8" y="4823.4">List()</tspan><tspan x="442.8" y="4843.4">resize()</tspan><tspan x="442.8" y="4863.4">operator[]()</tspan><tspan x="442.8" y="4883.4">operator[]()</tspan><tspan x="442.8" y="4903.4">clone()</tspan><tspan x="442.8" y="4923.4">clone()</tspan><tspan x="442.8" y="4943.4">begin()</tspan><tspan x="442.8" y="4963.4">et 6 de plus...</tspan><tspan x="442.8" y="4983.4">List()</tspan><tspan x="442.8" y="5003.4">_cast()</tspan><tspan x="442.8" y="5023.4">_cast()</tspan></text>
</g>

<g id="list-service-factory2">
<rect class="n" x="589.2" y="4692" width="213" height="340.1"/>
<path class="s" d="M589.2 4730H802.2M589.2 4749.3H802.2"/>
<text x="595.7" y="4709">Arcane::List&lt; Arcane</text>
<text class="c" x="694.9" y="4722.9">::Internal::IServiceFactory2 * &gt;</text>
<text class="v"><tspan x="624.4" y="4763.4">+</tspan><tspan x="624.4" y="4783.4">+</tspan><tspan x="624.4" y="4803.4">+</tspan><tspan x="624.4" y="4823.4">+</tspan><tspan x="624.4" y="4843.4">+</tspan><tspan x="624.4" y="4863.4">+</tspan><tspan x="624.4" y="4883.4">+</tspan><tspan x="624.4" y="4903.4">+</tspan><tspan x="624.4" y="4923.4">+</tspan><tspan x="624.4" y="4943.4">+</tspan><tspan x="624.4" y="4983.4">#</tspan><tspan x="625.9" y="5003.4">-</tspan><tspan x="625.9" y="5023.4">-</tspan></text>
<text><tspan x="659.6" y="4763.4">List()</tspan><tspan x="659.6" y="4783.4">List()</tspan><tspan x="659.6" y="4803.4">List()</tspan><tspan x="659.6" y="4823.4">List()</tspan><tspan x="659.6" y="4843.4">resize()</tspan><tspan x="659.6" y="4863.4">operator[]()</tspan><tspan x="659.6" y="4883.4">operator[]()</tspan><tspan x="659.6" y="4903.4">clone()</tspan><tspan x="659.6" y="4923.4">clone()</tspan><tspan x="659.6" y="4943.4">begin()</tspan><tspan x="659.6" y="4963.4">et 6 de plus...</tspan><tspan x="659.6" y="4983.4">List()</tspan><tspan x="659.6" y="5003.4">_cast()</tspan><tspan x="659.6" y="5023.4">_cast()</tspan></text>
</g>

<g id="service-and-module-factory-mng-impl">
<rect class="f" x="474.3" y="5109.7" width="224.9" height="219.9"/>
<path class="s" d="M474.3 5147.7H699.2M474.3 5187.8H699.2" style="stroke:#666"/>
<text class="c" x="586.7" y="5126.2">Arcane::ServiceAndModule</text>
<text class="c" x="586.7" y="5141.1">FactoryMng::Impl</text>
<text class="v"><tspan x="486.5" y="5161.3">-</tspan><tspan x="486.5" y="5181.1">-</tspan><tspan x="485" y="5201.4">+</tspan><tspan x="485" y="5221.4">+</tspan><tspan x="485" y="5241.4">+</tspan><tspan x="485" y="5261.4">+</tspan><tspan x="485" y="5281.4">+</tspan><tspan x="485" y="5301.4">+</tspan><tspan x="485" y="5321.4">+</tspan></text>
<text><tspan x="497.6" y="5161.3">m_service_factory_set</tspan><tspan x="497.6" y="5181.1">m_module_factory_set</tspan><tspan x="497.6" y="5201.4">serviceFactoryInfos()</tspan><tspan x="497.6" y="5221.4">serviceFactories2()</tspan><tspan x="497.6" y="5241.4">moduleFactoryInfos()</tspan><tspan x="497.6" y="5261.4">~Impl()</tspan><tspan x="497.6" y="5281.4">addServiceFactory()</tspan><tspan x="497.6" y="5301.4">addModuleFactory()</tspan><tspan x="497.6" y="5321.4">registerServiceInfoForDelete()</tspan></text>
</g>
</svg>
